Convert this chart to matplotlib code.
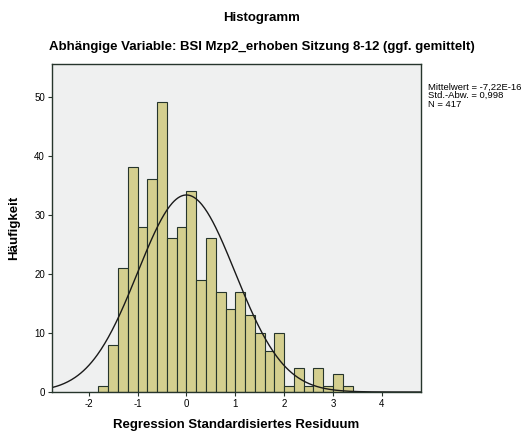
import numpy as np
import matplotlib.pyplot as plt

plt.rcParams['font.family'] = ['Liberation Sans', 'DejaVu Sans']
plt.rcParams['axes.unicode_minus'] = False

# Klassengrenzen (Breite 0,2) und Häufigkeiten
bin_edges = [-1.8, -1.6, -1.4, -1.2, -1.0, -0.8, -0.6, -0.4, -0.2, 0.0,
             0.2, 0.4, 0.6, 0.8, 1.0, 1.2, 1.4, 1.6, 1.8, 2.0,
             2.2, 2.4, 2.6, 2.8, 3.0, 3.2, 3.4]
counts = [1, 8, 21, 38, 28, 36, 49, 26, 28,
          34, 19, 26, 17, 14, 17, 13, 10, 7, 10,
          1, 4, 1, 4, 1, 3, 1]

mittelwert = -7.22e-16
std_abw = 0.998
n = 417

fig = plt.figure(figsize=(5.24, 4.37), dpi=100)
ax = fig.add_axes([52 / 524, 1 - 392 / 437, 369 / 524, 328 / 437])
ax.set_facecolor('#eff0f0')

left = np.array(bin_edges[:-1])
widths = np.diff(bin_edges)
ax.bar(left, counts, width=widths, align='edge', color='#d4cf8f',
       edgecolor='#26352c', linewidth=0.8)

# Normalverteilungskurve
xs = np.linspace(-2.75, 4.8, 400)
bw = 0.2
ys = n * bw / (std_abw * np.sqrt(2 * np.pi)) * np.exp(-0.5 * ((xs - mittelwert) / std_abw) ** 2)
ax.plot(xs, ys, color='#1a1a1a', linewidth=1.0)

ax.set_xlim(-2.75, 4.8)
ax.set_ylim(0, 55.5)
ax.set_xticks([-2, -1, 0, 1, 2, 3, 4])
ax.set_yticks([0, 10, 20, 30, 40, 50])
ax.tick_params(labelsize=7, length=3, width=0.8, color='#26352c', pad=2)
for s in ax.spines.values():
    s.set_color('#26352c')
    s.set_linewidth(1.0)

ax.set_xlabel('Regression Standardisiertes Residuum', fontsize=9.5,
              fontweight='bold', labelpad=7)
ax.set_ylabel('Häufigkeit', fontsize=9.5, fontweight='bold', labelpad=10)

fig.text(0.5, 1 - 18 / 437, 'Histogramm', ha='center', va='center',
         fontsize=9.5, fontweight='bold')
fig.text(0.5, 1 - 47 / 437,
         'Abhängige Variable: BSI Mzp2_erhoben Sitzung 8-12 (ggf. gemittelt)',
         ha='center', va='center', fontsize=9.5, fontweight='bold')

fig.text(428 / 524, 1 - 83 / 437,
         'Mittelwert = -7,22E-16\nStd.-Abw. = 0,998\nN = 417',
         ha='left', va='top', fontsize=6.8, linespacing=0.9)

fig.savefig('out.png', dpi=100, facecolor='white')
